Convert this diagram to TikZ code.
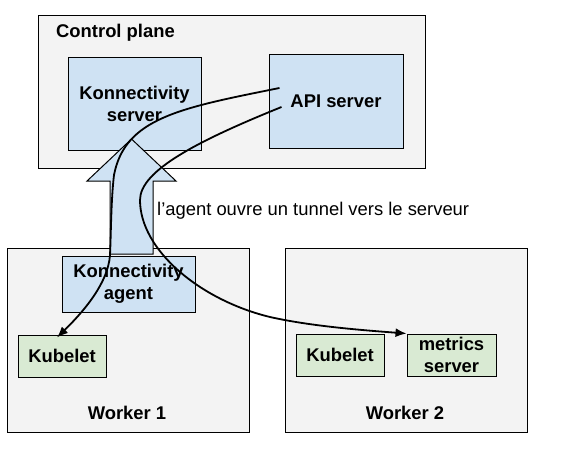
\documentclass[tikz,border=0pt]{standalone}
\usepackage{fontspec}
\setmainfont{Liberation Sans}
\usetikzlibrary{arrows.meta,calc}
\definecolor{panel}{HTML}{F3F3F3}
\definecolor{lblue}{HTML}{CFE2F3}
\definecolor{lgreen}{HTML}{D9EAD3}
\newcommand\diagfont{\fontsize{18.4}{22}\selectfont}
\begin{document}
\begin{tikzpicture}[x=1pt,y=-1pt,
  panelbox/.style={draw=black,line width=1pt,fill=panel,inner sep=0pt},
  bluebox/.style={draw=black,line width=1pt,fill=lblue,inner sep=0pt,align=center,font=\bfseries\diagfont},
  greenbox/.style={draw=black,line width=1pt,fill=lgreen,inner sep=0pt,align=center,font=\bfseries\diagfont},
  lbl/.style={inner sep=0pt,font=\bfseries\diagfont},
  note/.style={inner sep=0pt,font=\diagfont},
  bigarrow/.style={draw=black,line width=1pt,fill=lblue},
  flow/.style={draw=black,line width=1.8pt,-{Latex[length=11pt,width=9pt]}}]
\useasboundingbox (0,0) rectangle (577,456);
% panels
\node[panelbox,minimum width=387pt,minimum height=153pt] (cp) at (231.5,91.5) {};
\node[panelbox,minimum width=242pt,minimum height=184pt] (w1) at (128,340) {};
\node[panelbox,minimum width=242pt,minimum height=184pt] (w2) at (406,340) {};
% inner boxes
\node[bluebox,minimum width=133pt,minimum height=93pt] (ks) at (134.5,103.5) {Konnectivity\\server};
\node[bluebox,minimum width=134pt,minimum height=94pt] (api) at (336,101) {API server};
\node[bluebox,minimum width=133pt,minimum height=56pt] (ka) at (128.5,284) {Konnectivity\\agent};
\node[greenbox,minimum width=88pt,minimum height=42pt] (kub1) at (62,356) {Kubelet};
\node[greenbox,minimum width=88pt,minimum height=42pt] (kub2) at (340,355) {Kubelet};
\node[greenbox,minimum width=89pt,minimum height=42pt] (met) at (451.5,355) {metrics\\server};
% labels
\node[lbl,anchor=base west] (cpl) at (56,37.5) {Control plane};
\node[lbl,anchor=base] (w1l) at (127,419) {Worker 1};
\node[lbl,anchor=base] (w2l) at (405,419) {Worker 2};
% big tunnel arrow
\path[bigarrow] (110,254) -- (110,181) -- (87,181) -- (131.5,139) -- (176,181) -- (153,181) -- (153,254) -- cycle;
\node[note,anchor=base west] (tun) at (157,215) {l’agent ouvre un tunnel vers le serveur};
% connectors
\coordinate (s1) at ($(api.west)+(11,-13)$);
\coordinate (s2) at ($(api.west)+(13,6)$);
\coordinate (e1) at ($(kub1.north)+(-5,3)$);
\coordinate (e2) at (met.north west);
\draw[flow] (s1) .. controls (180,108) and (125,118) .. (114,175)
  .. controls (111,200) and (111,235) .. (110,255)
  .. controls (108,285) and (80,315) .. (e1);
\draw[flow] (s2) .. controls (200,140) and (140,170) .. (140,200)
  .. controls (140,250) and (200,300) .. (270,317)
  .. controls (310,326) and (360,330) .. (e2);
\end{tikzpicture}
\end{document}
